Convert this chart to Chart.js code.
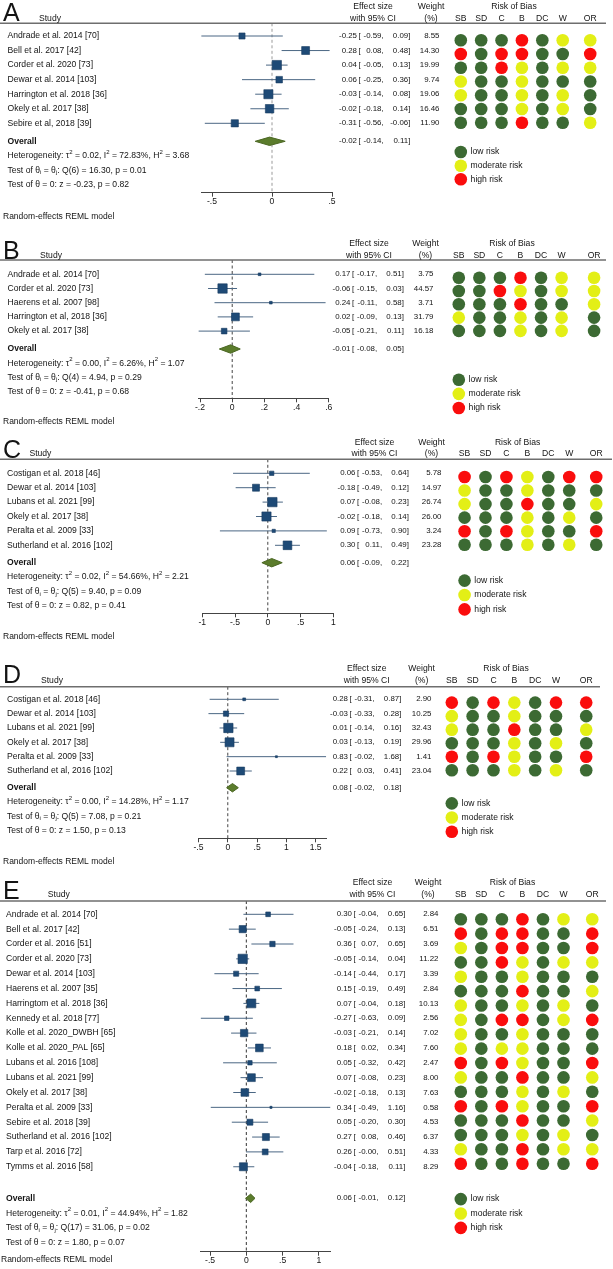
<!DOCTYPE html>
<html>
<head>
<meta charset="utf-8">
<title>Forest plots with risk of bias</title>
<script src="https://cdn.jsdelivr.net/npm/chart.js@4.4.1/dist/chart.umd.min.js"></script>
<style>
  html, body { margin: 0; padding: 0; background: #fff; overflow: hidden; }
  #page { position: relative; width: 613px; height: 1269px; }
  .panel { position: absolute; left: 0; width: 613px; }
  .panel canvas { position: absolute; left: 0; top: 0; }
</style>
</head>
<body>
<div id="page"></div>
<script>
// ---------- data ----------
const robColumns = ["SB", "SD", "C", "B", "DC", "W", "OR"];
const robLegend = ["low risk", "moderate risk", "high risk"];
const robCodes = ["G", "Y", "R"]; // low, moderate, high

// A
const aStudies = ["Andrade et al. 2014 [70]", "Bell et al. 2017 [42]", "Corder et al. 2020 [73]", "Dewar et al. 2014 [103]", "Harrington et al. 2018 [36]", "Okely et al. 2017 [38]", "Sebire et al, 2018 [39]"];
const aES = [-0.25, 0.28, 0.04, 0.06, -0.03, -0.02, -0.31];
const aLo = [-0.59, 0.08, -0.05, -0.25, -0.14, -0.18, -0.56];
const aHi = [0.09, 0.48, 0.13, 0.36, 0.08, 0.14, -0.06];
const aWt = [8.55, 14.30, 19.99, 9.74, 19.06, 16.46, 11.90];
const aRob = ["GGGRGYY", "RGRRGGR", "GGRYGYY", "YGGYGGG", "YGGYGYG", "GGGYGYG", "GGGRGGY"];
const aOverall = [-0.02, -0.14, 0.11];
const aHet = [0.02, 72.83, 3.68];
const aQ = [6, 16.30, 0.01];
const aZ = [-0.23, 0.82];
const aTicks = [-0.5, 0, 0.5];

// B
const bStudies = ["Andrade et al. 2014 [70]", "Corder et al. 2020 [73]", "Haerens et al. 2007 [98]", "Harrington et al, 2018 [36]", "Okely et al. 2017 [38]"];
const bES = [0.17, -0.06, 0.24, 0.02, -0.05];
const bLo = [-0.17, -0.15, -0.11, -0.09, -0.21];
const bHi = [0.51, 0.03, 0.58, 0.13, 0.11];
const bWt = [3.75, 44.57, 3.71, 31.79, 16.18];
const bRob = ["GGGRGYY", "GGRYGYY", "GGGRGGY", "YGGYGYG", "GGGYGYG"];
const bOverall = [-0.01, -0.08, 0.05];
const bHet = [0.00, 6.26, 1.07];
const bQ = [4, 4.94, 0.29];
const bZ = [-0.41, 0.68];
const bTicks = [-0.2, 0, 0.2, 0.4, 0.6];

// C
const cStudies = ["Costigan et al. 2018 [46]", "Dewar et al. 2014 [103]", "Lubans et al. 2021 [99]", "Okely et al. 2017 [38]", "Peralta et al. 2009 [33]", "Sutherland et al. 2016 [102]"];
const cES = [0.06, -0.18, 0.07, -0.02, 0.09, 0.30];
const cLo = [-0.53, -0.49, -0.08, -0.18, -0.73, 0.11];
const cHi = [0.64, 0.12, 0.23, 0.14, 0.90, 0.49];
const cWt = [5.78, 14.97, 26.74, 26.00, 3.24, 23.28];
const cRob = ["RGRYGRR", "YGGYGGG", "YGGRGGY", "GGGYGYG", "RGRYGGR", "GGGYGYG"];
const cOverall = [0.06, -0.09, 0.22];
const cHet = [0.02, 54.66, 2.21];
const cQ = [5, 9.40, 0.09];
const cZ = [0.82, 0.41];
const cTicks = [-1, -0.5, 0, 0.5, 1];

// D
const dStudies = ["Costigan et al. 2018 [46]", "Dewar et al. 2014 [103]", "Lubans et al. 2021 [99]", "Okely et al. 2017 [38]", "Peralta et al. 2009 [33]", "Sutherland et al, 2016 [102]"];
const dES = [0.28, -0.03, 0.01, 0.03, 0.83, 0.22];
const dLo = [-0.31, -0.33, -0.14, -0.13, -0.02, 0.03];
const dHi = [0.87, 0.28, 0.16, 0.19, 1.68, 0.41];
const dWt = [2.90, 10.25, 32.43, 29.96, 1.41, 23.04];
const dRob = ["RGRYGRR", "YGGYGGG", "YGGRGGY", "GGGYGYG", "RGRYGGR", "GGGYGYG"];
const dOverall = [0.08, -0.02, 0.18];
const dHet = [0.00, 14.28, 1.17];
const dQ = [5, 7.08, 0.21];
const dZ = [1.50, 0.13];
const dTicks = [-0.5, 0, 0.5, 1, 1.5];

// E
const eStudies = ["Andrade et al. 2014 [70]", "Bell et al. 2017 [42]", "Corder et al. 2016 [51]", "Corder et al. 2020 [73]", "Dewar et al. 2014 [103]", "Haerens et al. 2007 [35]", "Harringtom et al. 2018 [36]", "Kennedy et al. 2018 [77]", "Kolle et al. 2020_DWBH [65]", "Kolle et al. 2020_PAL [65]", "Lubans et al. 2016 [108]", "Lubans et al. 2021 [99]", "Okely et al. 2017 [38]", "Peralta et al. 2009 [33]", "Sebire et al. 2018 [39]", "Sutherland et al. 2016 [102]", "Tarp et al. 2016 [72]", "Tymms et al. 2016 [58]"];
const eES = [0.30, -0.05, 0.36, -0.05, -0.14, 0.15, 0.07, -0.27, -0.03, 0.18, 0.05, 0.07, -0.02, 0.34, 0.05, 0.27, 0.26, -0.04];
const eLo = [-0.04, -0.24, 0.07, -0.14, -0.44, -0.19, -0.04, -0.63, -0.21, 0.02, -0.32, -0.08, -0.18, -0.49, -0.20, 0.08, -0.004, -0.18];
const eHi = [0.65, 0.13, 0.65, 0.04, 0.17, 0.49, 0.18, 0.09, 0.14, 0.34, 0.42, 0.23, 0.13, 1.16, 0.30, 0.46, 0.51, 0.11];
const eWt = [2.84, 6.51, 3.69, 11.22, 3.39, 2.84, 10.13, 2.56, 7.02, 7.60, 2.47, 8.00, 7.63, 0.58, 4.53, 6.37, 4.33, 8.29];
const eRob = ["GGGRGYY", "RGRRGGR", "YGRRGGR", "GGRYGYY", "YGGYGGG", "GGGRGGY", "YGGYGYG", "YGRRGYR", "YGGYGGG", "YGYYGGG", "RGRYGGR", "YGGRGGY", "GGGYGYG", "RGRYGGR", "GGGRGGY", "GGGYGYG", "YGGRGYY", "RGGRGGR"];
const eOverall = [0.06, -0.01, 0.12];
const eHet = [0.01, 44.94, 1.82];
const eQ = [17, 31.06, 0.02];
const eZ = [1.80, 0.07];
const eTicks = [-0.5, 0, 0.5, 1];

// ---------- layout (pixels, relative to each panel's top) ----------
const layA = { top: 0, height: 228, letterBase: 21, head1: 6.5, head2: 18.7, headerY: 23.3, firstRow: 36, step: 14.55, overallY: 141.3, axisY: 192.7, reY: 216.3, reX: 3, axL: 201.2, axR: 332, nameX: 7.5, studyX: 39, effR: 411.5, wR: 439.5, effC: 373, wC: 431, robC: 514, sbX: 460.8, colStep: 20.38, orGap: 0.35, legY: 154.3, legStep: 14.4, lineEnd: 606, zeroColor: "#9a9a9a" };
const layB = { top: 228, height: 200, letterBase: 31, head1: 15.3, head2: 27.7, headerY: 32, firstRow: 46.3, step: 14.2, overallY: 121, axisY: 170.3, reY: 193.7, reX: 3, axL: 198.4, axR: 328.8, nameX: 7.5, studyX: 40, effR: 405, wR: 433.5, effC: 369, wC: 425.5, robC: 512, sbX: 458.8, colStep: 20.56, orGap: 0.58, legY: 155.3, legStep: 15, lineEnd: 606, zeroColor: "#444" };
const layC = { top: 428, height: 217, letterBase: 30, head1: 14.3, head2: 26, headerY: 31.3, firstRow: 45.3, step: 14.4, overallY: 134.7, axisY: 185.3, reY: 208.7, reX: 3, axL: 202.2, axR: 333.4, nameX: 7, studyX: 29.4, effR: 410, wR: 441.5, effC: 374.5, wC: 431.5, robC: 517.6, sbX: 464.7, colStep: 21.2, orGap: 0.29, legY: 155.3, legStep: 15.3, lineEnd: 612, zeroColor: "#444" };
const layD = { top: 645, height: 227, letterBase: 38.3, head1: 24, head2: 35.7, headerY: 41.7, firstRow: 54.3, step: 14.34, overallY: 142.7, axisY: 193.3, reY: 216.7, reX: 3, axL: 198.5, axR: 326.2, nameX: 7, studyX: 41, effR: 402.5, wR: 431.5, effC: 366.7, wC: 421.6, robC: 506, sbX: 451.8, colStep: 20.84, orGap: 0.45, legY: 161, legStep: 15, lineEnd: 600, zeroColor: "#444" };
const layE = { top: 872, height: 397, letterBase: 27, head1: 10.3, head2: 23, headerY: 29, firstRow: 42.3, step: 14.85, overallY: 326.3, axisY: 379.7, reY: 388, reX: 1, axL: 200.6, axR: 330.5, nameX: 6, studyX: 47.8, effR: 406.5, wR: 438.5, effC: 372.5, wC: 428, robC: 512.5, sbX: 460.8, colStep: 20.54, orGap: 0.4, legY: 331.3, legStep: 14.85, lineEnd: 606, zeroColor: "#333" };

const panels = [
  { letter: "A", studies: aStudies, es: aES, lo: aLo, hi: aHi, wt: aWt, rob: aRob, overall: aOverall, het: aHet, q: aQ, z: aZ, ticks: aTicks, L: layA },
  { letter: "B", studies: bStudies, es: bES, lo: bLo, hi: bHi, wt: bWt, rob: bRob, overall: bOverall, het: bHet, q: bQ, z: bZ, ticks: bTicks, L: layB },
  { letter: "C", studies: cStudies, es: cES, lo: cLo, hi: cHi, wt: cWt, rob: cRob, overall: cOverall, het: cHet, q: cQ, z: cZ, ticks: cTicks, L: layC },
  { letter: "D", studies: dStudies, es: dES, lo: dLo, hi: dHi, wt: dWt, rob: dRob, overall: dOverall, het: dHet, q: dQ, z: dZ, ticks: dTicks, L: layD },
  { letter: "E", studies: eStudies, es: eES, lo: eLo, hi: eHi, wt: eWt, rob: eRob, overall: eOverall, het: eHet, q: eQ, z: eZ, ticks: eTicks, L: layE }
];

// ---------- styles ----------
const FONT = "'Liberation Sans', Arial, sans-serif";
const SIZE = 8.6;
const NUM = "7.9px " + FONT;
const INK = "#141414";
const robColors = ["#3c6a33", "#e3ef16", "#fa0d0d"];
const SQUARE_R = 6.6;   // radius of the heaviest study's marker
const DIAMOND_H = 4.2;  // half-height of the pooled diamond, px

const f2 = v => v.toFixed(2);
const fmtTick = v => v === 0 ? "0" : String(v).replace(/^(-?)0\./, "$1.");

function put(ctx, s, x, y, align, font) {
  ctx.font = font || (SIZE + "px " + FONT);
  ctx.textAlign = align || "left";
  ctx.textBaseline = "middle";
  ctx.fillText(s, x, y);
}

// text with small raised/lowered pieces
function rich(ctx, parts, x, y) {
  let cx = x;
  ctx.textAlign = "left";
  ctx.textBaseline = "middle";
  parts.forEach(pt => {
    let s = pt, dy = 0;
    if (typeof pt !== "string") {
      s = pt.sub || pt.sup;
      dy = pt.sub ? 2.4 : -3.4;
      ctx.font = "6px " + FONT;
    } else {
      ctx.font = SIZE + "px " + FONT;
    }
    ctx.fillText(s, cx, y + dy);
    cx += ctx.measureText(s).width;
  });
}

function effect(ctx, es, lo, hi, R, y) {
  put(ctx, f2(es), R - 54.5, y, "right", NUM);
  put(ctx, "[", R - 53, y, "left", NUM);
  put(ctx, f2(lo) + ",", R - 27.8, y, "right", NUM);
  put(ctx, f2(hi), R - 3.3, y, "right", NUM);
  put(ctx, "]", R - 3.3, y, "left", NUM);
}

function makeCanvas(holder, h) {
  const c = document.createElement("canvas");
  c.width = 613;
  c.height = h;
  holder.appendChild(c);
  return c;
}

function forestChart(p, holder) {
  const L = p.L;
  const yMin = (L.headerY - L.firstRow) / L.step;
  const yMax = (L.axisY - L.firstRow) / L.step;
  const ovRow = (L.overallY - L.firstRow) / L.step;
  const xMin = Math.min(...p.lo, ...p.ticks);
  const xMax = Math.max(...p.hi, ...p.ticks);
  const maxW = Math.max(...p.wt);

  const ciData = [];
  p.lo.forEach((lo, i) => {
    ciData.push({ x: lo, y: i }, { x: p.hi[i], y: i }, { x: null, y: null });
  });
  const dh = DIAMOND_H / L.step;
  const [oes, olo, ohi] = p.overall;
  const diamond = [
    { x: olo, y: ovRow }, { x: oes, y: ovRow - dh }, { x: ohi, y: ovRow },
    { x: oes, y: ovRow + dh }, { x: olo, y: ovRow }
  ];

  const textPlugin = {
    id: "forestText" + p.letter,
    beforeDatasetsDraw(chart) {
      const { ctx, chartArea, scales: { x } } = chart;
      const px = x.getPixelForValue(0);
      ctx.save();
      ctx.strokeStyle = L.zeroColor;
      ctx.lineWidth = 1;
      ctx.setLineDash([3, 2.5]);
      ctx.beginPath();
      ctx.moveTo(px, chartArea.top);
      ctx.lineTo(px, chartArea.bottom);
      ctx.stroke();
      ctx.restore();
    },
    afterDraw(chart) {
      const { ctx, chartArea, scales: { y } } = chart;
      const row = v => y.getPixelForValue(v);
      ctx.save();
      ctx.fillStyle = INK;

      ctx.strokeStyle = "#6e6e6e";
      ctx.lineWidth = 1.5;
      ctx.beginPath();
      ctx.moveTo(0, chartArea.top);
      ctx.lineTo(L.lineEnd, chartArea.top);
      ctx.stroke();

      ctx.font = "25px " + FONT;
      ctx.textAlign = "left";
      ctx.textBaseline = "alphabetic";
      ctx.fillText(p.letter, 3, L.letterBase);

      put(ctx, "Study", L.studyX, L.head2);
      put(ctx, "Effect size", L.effC, L.head1, "center");
      put(ctx, "with 95% CI", L.effC, L.head2, "center");
      put(ctx, "Weight", L.wC, L.head1, "center");
      put(ctx, "(%)", L.wC, L.head2, "center");

      p.studies.forEach((s, i) => {
        const yy = row(i);
        put(ctx, s, L.nameX, yy);
        effect(ctx, p.es[i], p.lo[i], p.hi[i], L.effR, yy);
        put(ctx, f2(p.wt[i]), L.wR, yy, "right", NUM);
      });

      const oy = row(ovRow);
      put(ctx, "Overall", L.nameX, oy, "left", "bold " + SIZE + "px " + FONT);
      effect(ctx, oes, olo, ohi, L.effR, oy);

      rich(ctx, ["Heterogeneity: \u03c4", { sup: "2" }, " = " + f2(p.het[0]) + ", I", { sup: "2" },
        " = " + f2(p.het[1]) + "%, H", { sup: "2" }, " = " + f2(p.het[2])], L.nameX, row(ovRow + 1));
      rich(ctx, ["Test of \u03b8", { sub: "i" }, " = \u03b8", { sub: "j" },
        ": Q(" + p.q[0] + ") = " + f2(p.q[1]) + ", p = " + f2(p.q[2])], L.nameX, row(ovRow + 2));
      rich(ctx, ["Test of \u03b8 = 0: z = " + f2(p.z[0]) + ", p = " + f2(p.z[1])], L.nameX, row(ovRow + 3));

      put(ctx, "Random-effects REML model", L.reX, L.reY, "left", "8.5px " + FONT);
      ctx.restore();
    }
  };

  return new Chart(makeCanvas(holder, L.height), {
    type: "line",
    data: {
      datasets: [
        {
          data: p.es.map((v, i) => ({ x: v, y: i })),
          showLine: false,
          order: 0,
          pointStyle: "rect",
          pointRadius: ctx => SQUARE_R * Math.sqrt(p.wt[ctx.dataIndex] / maxW),
          pointBackgroundColor: "#1e4a76",
          pointBorderColor: "#173b60",
          pointBorderWidth: 0.6
        },
        {
          data: ciData,
          order: 1,
          borderColor: "#4b6784",
          borderWidth: 1,
          pointRadius: 0,
          spanGaps: false
        },
        {
          data: diamond,
          order: 0,
          borderColor: "#4a6622",
          backgroundColor: "#5b7c2c",
          borderWidth: 1,
          pointRadius: 0,
          tension: 0,
          fill: "shape"
        }
      ]
    },
    options: {
      responsive: false,
      animation: false,
      events: [],
      layout: {
        padding: { left: L.axL, right: 613 - L.axR, top: L.headerY, bottom: L.height - L.axisY - 16 }
      },
      plugins: { legend: { display: false }, tooltip: { enabled: false } },
      scales: {
        x: {
          type: "linear",
          min: xMin,
          max: xMax,
          bounds: "data",
          afterBuildTicks: s => { s.ticks = p.ticks.map(v => ({ value: v })); },
          afterFit: s => { s.height = 16; },
          ticks: {
            callback: v => fmtTick(v),
            color: INK,
            font: { family: FONT, size: SIZE },
            padding: 0,
            maxRotation: 0,
            autoSkip: false
          },
          grid: { drawOnChartArea: false, tickLength: 4, color: "#444", tickColor: "#444" },
          border: { color: "#444", width: 1 }
        },
        y: { type: "linear", display: false, reverse: true, min: yMin, max: yMax }
      }
    },
    plugins: [textPlugin]
  });
}

function robChart(p, holder) {
  const L = p.L;
  const colPos = j => j + (j === robColumns.length - 1 ? L.orGap : 0);
  const legRow = k => (L.legY + k * L.legStep - L.firstRow) / L.step;

  const datasets = robCodes.map((code, k) => {
    const pts = [];
    p.rob.forEach((r, i) => {
      r.split("").forEach((c, j) => { if (c === code) pts.push({ x: colPos(j), y: i }); });
    });
    pts.push({ x: 0, y: legRow(k) });
    return {
      data: pts,
      pointRadius: 6.3,
      pointBackgroundColor: robColors[k],
      pointBorderWidth: 0,
      showLine: false
    };
  });

  const robText = {
    id: "robText" + p.letter,
    afterDraw(chart) {
      const { ctx, scales: { x, y } } = chart;
      ctx.save();
      ctx.fillStyle = INK;
      put(ctx, "Risk of Bias", L.robC, L.head1, "center");
      robColumns.forEach((c, j) => put(ctx, c, x.getPixelForValue(colPos(j)), L.head2, "center"));
      robLegend.forEach((t, k) => put(ctx, t, x.getPixelForValue(0) + 9.8, y.getPixelForValue(legRow(k))));
      ctx.restore();
    }
  };

  const right = L.sbX + (robColumns.length - 0.5 + L.orGap) * L.colStep;
  return new Chart(makeCanvas(holder, L.height), {
    type: "scatter",
    data: { datasets },
    options: {
      responsive: false,
      animation: false,
      events: [],
      layout: { padding: { left: L.sbX - L.colStep / 2, right: 613 - right, top: 0, bottom: 0 } },
      plugins: { legend: { display: false }, tooltip: { enabled: false } },
      scales: {
        x: { type: "linear", display: false, min: -0.5, max: robColumns.length - 0.5 + L.orGap },
        y: { type: "linear", display: false, reverse: true, min: -L.firstRow / L.step, max: (L.height - L.firstRow) / L.step }
      }
    },
    plugins: [robText]
  });
}

const page = document.getElementById("page");
panels.forEach(p => {
  const holder = document.createElement("div");
  holder.className = "panel";
  holder.style.top = p.L.top + "px";
  holder.style.height = p.L.height + "px";
  page.appendChild(holder);
  forestChart(p, holder);
  robChart(p, holder);
});
</script>
</body>
</html>
